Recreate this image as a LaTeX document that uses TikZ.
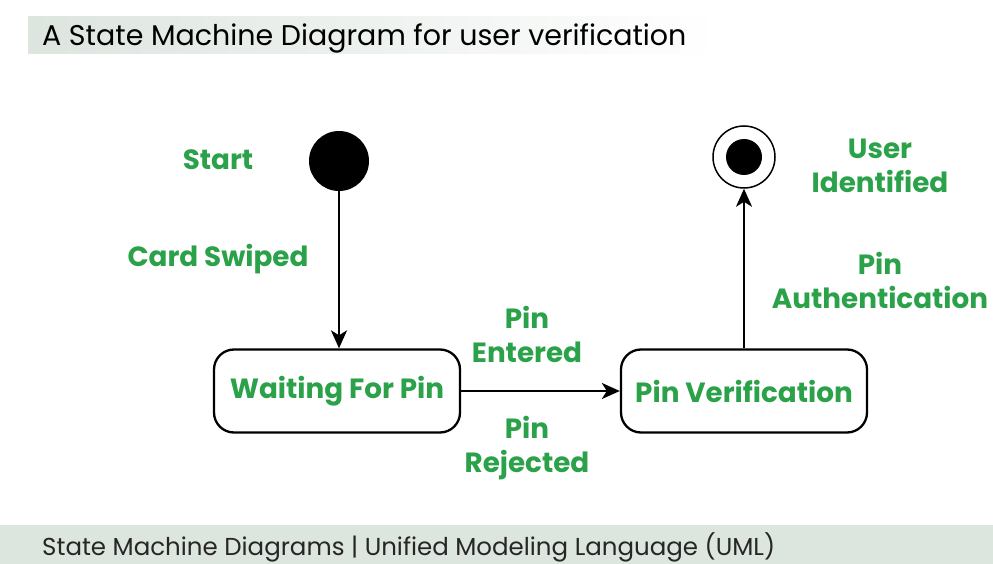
\documentclass[tikz,border=0pt]{standalone}
\usepackage{fontspec}
\setmainfont{Poppins}
\usetikzlibrary{arrows.meta,shadings}
\definecolor{gfg}{RGB}{43,161,74}
\definecolor{band}{RGB}{221,229,223}
\begin{document}
\begin{tikzpicture}[x=1pt,y=-1pt,
  lbl/.style={text=gfg,font=\fontsize{27.8}{34}\selectfont\bfseries,align=center,inner sep=0pt},
  statebox/.style={draw,line width=2.3pt,rounded corners=20pt,minimum width=246pt,minimum height=83pt,text=gfg,font=\fontsize{27.8}{34}\selectfont\bfseries},
  conn/.style={line width=2.3pt,-{Stealth[length=18pt,width=16pt,inset=5pt]}}]
\useasboundingbox (0,0) rectangle (993,564);
\fill[white] (0,0) rectangle (993,564);
\shade[left color=band,right color=white] (28,17) rectangle (720,54);
\fill[band] (0,525) rectangle (993,564);
\node[anchor=base west,inner sep=0pt,font=\fontsize{28.5}{32}\selectfont] (title) at (42,46) {A State Machine Diagram for user verification};
\node[anchor=base west,inner sep=0pt,font=\fontsize{24.5}{28}\selectfont,text=black!85] (foot) at (42,555) {State Machine Diagrams | Unified Modeling Language (UML)};
\node[circle,fill=black,minimum size=60pt,inner sep=0pt] (start) at (339,161) {};
\node[circle,draw,line width=1.5pt,minimum size=62pt,inner sep=0pt] (end) at (744,157) {};
\node[circle,fill=black,minimum size=36pt,inner sep=0pt] (endin) at (744,157) {};
\node[statebox] (wait) at (337,391) {Waiting For Pin};
\node[statebox] (ver) at (744,391) {Pin Verification};
\node[lbl] (lstart) at (218,160) {Start};
\node[lbl] (lcard) at (218,259) {Card Swiped};
\node[lbl] (lent) at (527,334) {Pin\\Entered};
\node[lbl] (lrej) at (527,448) {Pin\\Rejected};
\node[lbl] (luser) at (880,166) {User\\Identified};
\node[lbl] (lauth) at (880,280) {Pin\\Authentication};
\draw[conn] (start) -- (start|-wait.north);
\draw[conn] (wait) -- (ver);
\draw[conn] (ver) -- (end);
\end{tikzpicture}
\end{document}
